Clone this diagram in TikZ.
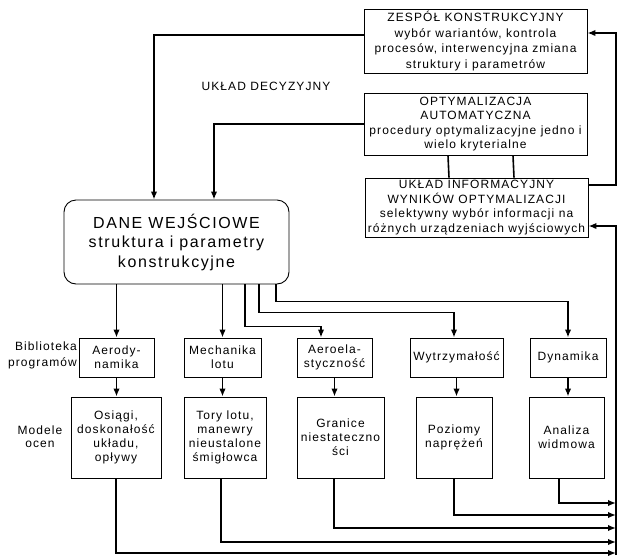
\documentclass[tikz,border=0pt]{standalone}
\usepackage{fontspec}
\setmainfont{Liberation Sans}
\newfontfamily\boxfont[LetterSpace=9]{Liberation Sans}
\newfontfamily\danefont[LetterSpace=10]{Liberation Sans}
\usepackage{tikz}
\usetikzlibrary{arrows.meta}

\begin{document}
\begin{tikzpicture}[x=1pt,y=-1pt,>={Latex[length=8pt,width=6.5pt]},
  box/.style={draw, line width=0.9pt, inner sep=0pt, align=center,
    font=\boxfont\fontsize{12}{14.5}\selectfont},
  small/.style={box, font=\boxfont\fontsize{12}{14}\selectfont},
  lbl/.style={inner sep=1pt, font=\boxfont\fontsize{12}{16}\selectfont},
  conn/.style={line width=1.6pt}]

\useasboundingbox (0,0) rectangle (619,555);

% Decision and information boxes
\node[box, minimum width=223pt, minimum height=64pt,
  font=\boxfont\fontsize{12}{15.5}\selectfont] (zespol) at (475.5,41)
  {ZESPÓŁ KONSTRUKCYJNY\\wybór wariantów, kontrola\\procesów, interwencyjna zmiana\\struktury i parametrów};
\node[box, minimum width=223pt, minimum height=62pt] (optym) at (475.5,124)
  {OPTYMALIZACJA\\AUTOMATYCZNA\\procedury optymalizacyjne jedno i\\wielo kryterialne};
\node[box, minimum width=223pt, minimum height=59pt] (info) at (476.5,207.5)
  {UKŁAD INFORMACYJNY\\WYNIKÓW OPTYMALIZACJI\\selektywny wybór informacji na\\różnych urządzeniach wyjściowych};
\node[lbl] (decyz) at (266,86) {UKŁAD DECYZYJNY};

% Input data
\node[box, rounded corners=12pt, minimum width=225pt, minimum height=84pt,
  font=\danefont\fontsize{16}{19.5}\selectfont] (dane) at (176.5,242)
  {DANE WEJŚCIOWE\\struktura i parametry\\konstrukcyjne};

% Program library
\node[small, minimum width=75pt, minimum height=39pt] (aero)   at (116.5,357.5) {Aerody-\\namika};
\node[small, minimum width=77pt, minimum height=39pt] (mech)   at (222.5,357.5) {Mechanika\\lotu};
\node[small, minimum width=75pt, minimum height=39pt] (aeroel) at (334.5,357.5) {Aeroela-\\styczność};
\node[small, minimum width=93pt, minimum height=39pt] (wytrz)  at (456.5,357.5) {Wytrzymałość};
\node[small, minimum width=76pt, minimum height=39pt] (dyn)    at (568,357.5)   {Dynamika};
\node[lbl, align=right, anchor=east] (bibl) at (78,355) {Biblioteka\\programów};

% Evaluation models
\node[small, minimum width=90pt, minimum height=81pt] (osiagi)  at (116,437.5)   {Osiągi,\\doskonałość\\układu,\\opływy};
\node[small, minimum width=82pt, minimum height=81pt] (tory)    at (225,437.5)   {Tory lotu,\\manewry\\nieustalone\\śmigłowca};
\node[small, minimum width=87pt, minimum height=81pt] (granice) at (340.5,437.5) {Granice\\niestateczno\\ści};
\node[small, minimum width=76pt, minimum height=81pt] (poziomy) at (454,437.5)   {Poziomy\\naprężeń};
\node[small, minimum width=75pt, minimum height=81pt] (analiza) at (566.5,437.5) {Analiza\\widmowa};
\node[lbl, align=center, font=\boxfont\fontsize{12}{13}\selectfont] (modele) at (40,437) {Modele\\ocen};

% Feedback bus on the right
\coordinate (rtop) at (616,33);
\coordinate (rmid) at (616,226);
\coordinate (rbot) at (616,555);

% Decisions into the input data
\draw[conn,->] ([yshift=6pt]zespol.west) -| ([xshift=-22.5pt]dane.north);
\draw[conn,->] (optym.west) -| ([xshift=37.5pt]dane.north);
\draw[conn] ([xshift=-27.5pt]optym.south) -- ([xshift=-27.5pt]info.north);
\draw[conn] ([xshift=37.5pt]optym.south) -- ([xshift=37.5pt]info.north);
\draw[conn,->] ([yshift=22.5pt]info.east) -| (rtop) -- ([yshift=8pt]zespol.east);
\draw[conn,->] (rbot) -- (rmid) -- ([yshift=-18.5pt]info.east);

% Input data into the programs
\draw[conn,->] (aero.north |- dane.south) -- (aero.north);
\draw[conn,->] (mech.north |- dane.south) -- (mech.north);
\draw[conn,->] ([xshift=68.5pt]dane.south) -- ++(0,42) -| ([xshift=-13.5pt]aeroel.north);
\draw[conn,->] ([xshift=82.5pt]dane.south) -- ++(0,28) -| ([xshift=-2.5pt]wytrz.north);
\draw[conn,->] ([xshift=99.5pt]dane.south) -- ++(0,17) -| (dyn.north);

\foreach \a/\b in {aero/osiagi, mech/tory, aeroel/granice, wytrz/poziomy, dyn/analiza}
  \draw[conn,->] (\a.south) -- (\a.south |- \b.north);

% Results back to the bus
\foreach \b/\s/\y in {osiagi/0/553, tory/-4/542, granice/-6.5/528, poziomy/0/515, analiza/-7.5/503}
{
  \coordinate (in-\b) at (616,\y);
  \draw[conn,->] ([xshift=\s pt]\b.south) |- (in-\b);
}

\end{tikzpicture}
\end{document}
